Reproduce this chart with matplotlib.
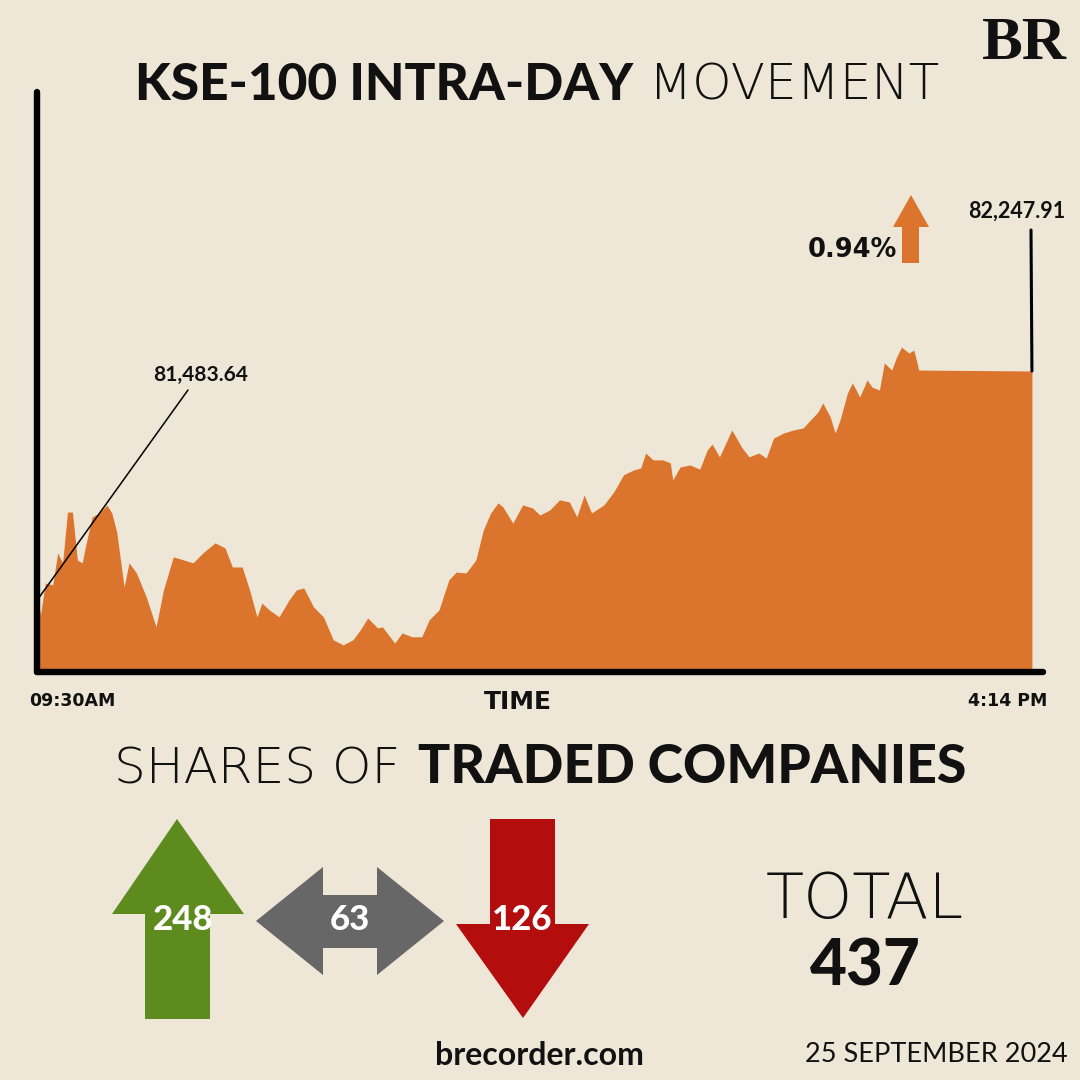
import matplotlib
matplotlib.use("Agg")
import matplotlib.pyplot as plt
from matplotlib.patches import Polygon, ConnectionPatch

# ---------------- data ----------------
minutes = [0, 1, 3, 6, 8, 10, 12, 14, 16, 18,
           19, 22, 25, 28, 30, 32, 35, 37, 40, 44,
           48, 51, 55, 59, 63, 67, 72, 76, 79, 83,
           86, 89, 91, 94, 98, 102, 105, 108, 112, 116,
           120, 124, 128, 131, 134, 138, 140, 145, 148, 152,
           156, 159, 163, 167, 170, 174, 178, 181, 184, 187,
           189, 193, 197, 201, 204, 208, 212, 216, 219, 222,
           225, 230, 234, 238, 242, 245, 247, 250, 254, 257,
           258, 261, 265, 269, 272, 274, 277, 282, 286, 289,
           293, 296, 299, 303, 307, 311, 314, 317, 319, 322,
           324, 326, 329, 331, 334, 337, 339, 342, 344, 347,
           349, 351, 354, 356, 358, 404]
index_values = [81483.64, 81430, 81537, 81531, 81638, 81605, 81775, 81775, 81614, 81605,
                81648, 81759, 81772, 81799, 81772, 81708, 81524, 81605, 81571, 81491,
                81390, 81514, 81625, 81615, 81605, 81638, 81672, 81655, 81591, 81591,
                81514, 81424, 81470, 81447, 81424, 81480, 81514, 81521, 81457, 81424,
                81347, 81330, 81347, 81380, 81420, 81387, 81390, 81336, 81370, 81357,
                81357, 81414, 81447, 81548, 81574, 81571, 81615, 81715, 81772, 81806,
                81792, 81738, 81799, 81789, 81765, 81782, 81816, 81809, 81759, 81832,
                81772, 81799, 81842, 81900, 81916, 81923, 81973, 81950, 81950, 81940,
                81883, 81926, 81933, 81919, 81983, 82003, 81960, 82050, 81993, 81960,
                81973, 81956, 82023, 82040, 82050, 82057, 82084, 82110, 82141, 82094,
                82040, 82084, 82174, 82208, 82161, 82218, 82194, 82184, 82275, 82251,
                82295, 82328, 82308, 82318, 82251, 82247.91]
start_label = "81,483.64"
end_label = "82,247.91"
change_label = "0.94%"
time_labels = ["09:30AM", "4:14 PM"]
share_categories = ["Up", "Unchanged", "Down"]
share_counts = [248, 63, 126]
date_label = "25 SEPTEMBER 2024"

# ---------------- style ----------------
BG = "#EEE7D7"
ORANGE = "#DB742C"
GREEN = "#5E8B1D"
GREY = "#676767"
RED = "#B40D0D"
INK = "#111111"
LATO = ["Lato", "DejaVu Sans"]
THIN = ["DejaVu Sans"]
plt.rcParams["font.family"] = LATO

fig = plt.figure(figsize=(10.8, 10.8), dpi=100, facecolor=BG)

# overlay in pixel coordinates
ov = fig.add_axes([0, 0, 1, 1], zorder=0)
ov.set_xlim(0, 1080)
ov.set_ylim(1080, 0)
ov.axis("off")
ov.patch.set_alpha(0)

# chart axes
L, R, B, T = 37, 1043, 672, 92
ax = fig.add_axes([L / 1080, 1 - B / 1080, (R - L) / 1080, (B - T) / 1080], zorder=1)
ax.patch.set_alpha(0)
ymin, ymax = 81239, 83183
ax.set_xlim(-0.4, 408.5)
ax.set_ylim(ymin, ymax)
ax.fill_between(minutes, index_values, ymin - 100, color=ORANGE, linewidth=0)
for s in ["top", "right"]:
    ax.spines[s].set_visible(False)
for s in ["left", "bottom"]:
    ax.spines[s].set_linewidth(4.6)
    ax.spines[s].set_color("black")
    ax.spines[s].set_capstyle("round")
ax.set_xticks([])
ax.set_yticks([])

# annotations on chart
ov.text(201, 381, start_label, ha="center", va="baseline", fontsize=15,
        fontweight="bold", color=INK)
con = ConnectionPatch(xyA=(188, 390), coordsA=ov.transData,
                      xyB=(minutes[0], index_values[0]), coordsB=ax.transData,
                      color="black", lw=1.1, zorder=5)
fig.add_artist(con)

ov.text(1017, 218, end_label, ha="center", va="baseline", fontsize=15.5,
        fontweight="bold", color=INK)
con2 = ConnectionPatch(xyA=(1031, 230), coordsA=ov.transData,
                       xyB=(minutes[-1], index_values[-1]), coordsB=ax.transData,
                       color="black", lw=2.2, zorder=5)
fig.add_artist(con2)

ov.text(852, 257, change_label, ha="center", va="baseline", fontsize=18.5,
        fontweight="bold", family=["DejaVu Sans"], color=INK)
ov.add_patch(Polygon([(902, 263), (919, 263), (919, 227), (929, 227), (911, 195),
                      (893, 227), (902, 227)], closed=True, color=ORANGE, lw=0))

# axis labels
ov.text(29, 706, time_labels[0], ha="left", va="baseline", fontsize=12.5,
        fontweight="bold", family=["DejaVu Sans"], color=INK)
ov.text(1047, 706, time_labels[1], ha="right", va="baseline", fontsize=12.5,
        fontweight="bold", family=["DejaVu Sans"], color=INK)
ov.text(518, 709, "TIME", ha="center", va="baseline", fontsize=18,
        fontweight="bold", family=["DejaVu Sans"], color=INK)

# logo
ov.text(1024, 59, "BR", ha="center", va="baseline", fontsize=44,
        fontweight="bold", family=["Liberation Serif", "DejaVu Serif"],
        color=INK)


def two_part(cx, base, t1, kw1, t2, kw2, gap):
    a = ov.text(0, base, t1, ha="left", va="baseline", color=INK, **kw1)
    b = ov.text(0, base, t2, ha="left", va="baseline", color=INK, **kw2)
    fig.canvas.draw()
    r = fig.canvas.get_renderer()
    wa = a.get_window_extent(r).width
    wb = b.get_window_extent(r).width
    x0 = cx - (wa + gap + wb) / 2
    a.set_x(x0)
    b.set_x(x0 + wa + gap)


BOLD_KW = dict(fontweight="black", family=LATO)
two_part(537, 100, "KSE-100 INTRA-DAY", dict(BOLD_KW, fontsize=37),
         "MOVEMENT", dict(fontweight=200, family=THIN, fontsize=36), 16)
two_part(540, 783, "SHARES OF", dict(fontweight=200, family=THIN, fontsize=36),
         "TRADED COMPANIES", dict(BOLD_KW, fontsize=38.5), 18)

# shares arrows
ov.add_patch(Polygon([(145, 1019), (210, 1019), (210, 914), (244, 914), (177, 819),
                      (112, 914), (145, 914)], closed=True, color=GREEN, lw=0))
ov.add_patch(Polygon([(256, 921), (323, 867), (323, 895), (377, 895), (377, 867),
                      (444, 921), (377, 975), (377, 948), (323, 948), (323, 975)],
                     closed=True, color=GREY, lw=0))
ov.add_patch(Polygon([(490, 819), (555, 819), (555, 924), (589, 924), (523, 1018),
                      (456, 924), (490, 924)], closed=True, color=RED, lw=0))
for cx, n in zip([183, 350, 522], share_counts):
    ov.text(cx, 930, str(n), ha="center", va="baseline", fontsize=25,
            fontweight="black", color="white")

ov.text(865, 918, "TOTAL", ha="center", va="baseline", fontsize=45,
        fontweight=200, family=THIN, color=INK)
ov.text(865, 985, str(sum(share_counts)), ha="center", va="baseline", fontsize=46,
        fontweight="black", color=INK)

ov.text(539, 1065, "brecorder.com", ha="center", va="baseline", fontsize=23,
        fontweight="bold", color=INK)
ov.text(1068, 1062, date_label, ha="right", va="baseline", fontsize=19.5,
        color=INK)

fig.savefig("out.png", dpi=100, facecolor=BG)
